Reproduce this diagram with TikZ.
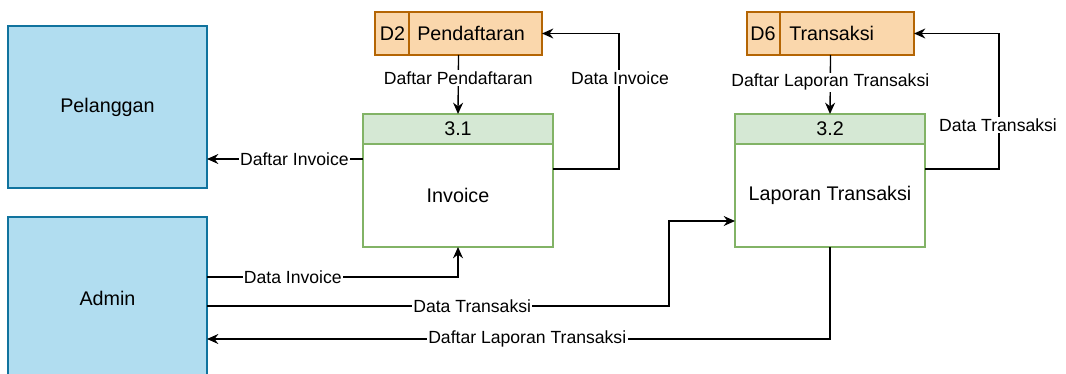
\documentclass[tikz,border=0pt]{standalone}
\usepackage{fontspec}
\setmainfont{Liberation Sans}
\usetikzlibrary{arrows.meta,calc}
\definecolor{entfill}{HTML}{B1DDF0}
\definecolor{entline}{HTML}{10739E}
\definecolor{procfill}{HTML}{D5E8D4}
\definecolor{procline}{HTML}{82B366}
\definecolor{storefill}{HTML}{FAD7AC}
\definecolor{storeline}{HTML}{B46504}
\newcommand{\bigtxt}{\fontsize{14.8pt}{17pt}\selectfont}
\newcommand{\smalltxt}{\fontsize{13.2pt}{15pt}\selectfont}

\begin{document}
\begin{tikzpicture}[x=0.75pt,y=-0.75pt,
  entity/.style={draw=entline, fill=entfill, line width=1pt, inner sep=0pt, outer sep=0pt,
    minimum width=149.25pt, minimum height=121.5pt, font=\bigtxt},
  prochead/.style={draw=procline, fill=procfill, line width=1pt, inner sep=0pt, outer sep=0pt,
    minimum width=142.5pt, minimum height=22.5pt, font=\bigtxt},
  procbody/.style={draw=procline, fill=white, line width=1pt, inner sep=0pt, outer sep=0pt,
    minimum width=142.5pt, minimum height=77.25pt, font=\bigtxt},
  store/.style={draw=storeline, fill=storefill, line width=1pt, inner sep=0pt, outer sep=0pt,
    minimum width=125.25pt, minimum height=32.25pt},
  storetxt/.style={inner sep=0pt, font=\bigtxt},
  flow/.style={draw=black, line width=1pt, -{Stealth[length=8.5pt, width=7.5pt, inset=2.8pt]}},
  lbl/.style={fill=white, inner xsep=1pt, inner ysep=1pt, font=\smalltxt}]

\useasboundingbox (0,0) rectangle (1066,374);

% external entities
\node[entity] (pel) at (107.5,107) {Pelanggan};
\node[entity] (adm) at (107.5,298) {Admin};

% process 3.1
\node[prochead] (h31) at (458,129) {3.1};
\node[procbody] (p31) at (458,195.5) {Invoice};

% process 3.2
\node[prochead] (h32) at (830,129) {3.2};
\node[procbody] (p32) at (830,195.5) {Laporan Transaksi};

% data stores
\node[store] (d2) at (458.5,33.5) {};
\draw[storeline, line width=1pt] ($(d2.north west)+(34,0)$) -- ($(d2.south west)+(34,0)$);
\node[storetxt] (d2id) at (392.5,33.5) {D2};
\node[storetxt, anchor=west] (d2nm) at (417,33.5) {Pendaftaran};

\node[store] (d6) at (830.5,33.5) {};
\draw[storeline, line width=1pt] ($(d6.north west)+(33,0)$) -- ($(d6.south west)+(33,0)$);
\node[storetxt] (d6id) at (763,33.5) {D6};
\node[storetxt, anchor=west] (d6nm) at (789,33.5) {Transaksi};

% bend points
\coordinate (c1) at (619,33.5);
\coordinate (c2) at (999,33.5);

% flows around process 3.1
\draw[flow] (d2.south) -- node[lbl, pos=0.39] (l1) {Daftar Pendaftaran} (h31.north);
\draw[flow] ($(p31.east)+(0,-26.5)$) -| (c1) -- (d2.east);
\node[lbl] (l2) at (620,78) {Data Invoice};
\draw[flow] ($(p31.west)+(0,-36.5)$) -- node[lbl, pos=0.44] (l3) {Daftar Invoice} ($(pel.east)+(0,52)$);
\draw[flow] ($(adm.east)+(0,-21)$) -| node[lbl, pos=0.171] (l4) {Data Invoice} (p31.south);

% flows around process 3.2
\draw[flow] ($(adm.east)+(0,8)$) -| node[lbl, pos=0.287] (l5) {Data Transaksi} ($(p32.west)+(-66,25.5)$) -- ($(p32.west)+(0,25.5)$);
\draw[flow] (p32.south) |- node[lbl, pos=0.743] (l6) {Daftar Laporan Transaksi} ($(adm.east)+(0,41)$);
\draw[flow] (d6.south) -- node[lbl, pos=0.46] (l7) {Daftar Laporan Transaksi} (h32.north);
\draw[flow] ($(p32.east)+(0,-26.5)$) -| (c2) -- (d6.east);
\node[lbl] (l8) at (998,125) {Data Transaksi};

\end{tikzpicture}
\end{document}
